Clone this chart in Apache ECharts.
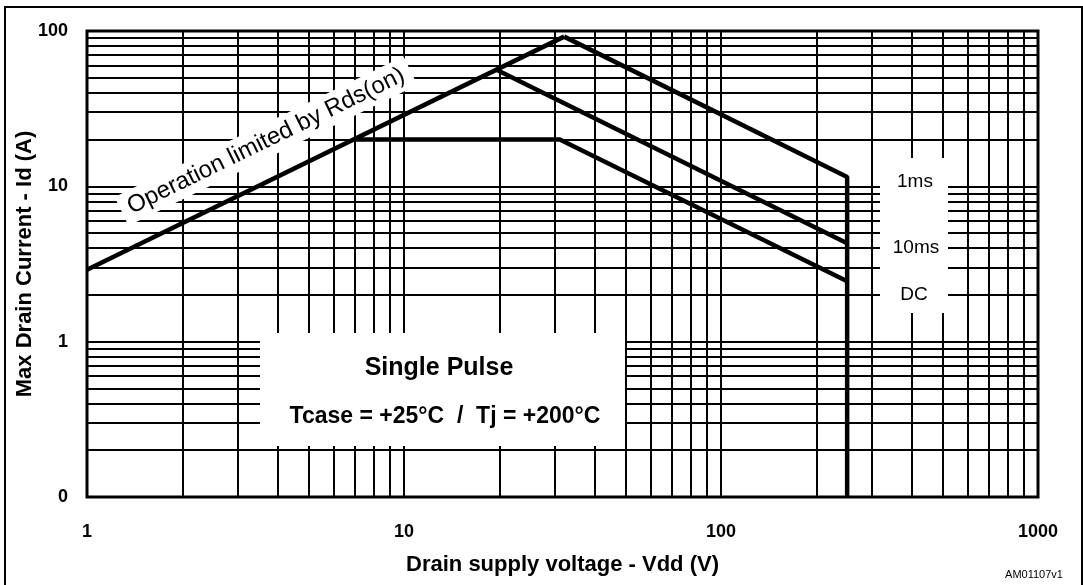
<!DOCTYPE html>
<html>
<head>
<meta charset="utf-8">
<script src="https://cdn.jsdelivr.net/npm/echarts@6/dist/echarts.min.js"></script>
<style>
  * { margin: 0; padding: 0; }
  body { background: #fff; }
</style>
</head>
<body>
<!-- safe operating area, log-log -->
<div id="main" style="width: 1083px;height: 585px;"></div>
<script>
  // curves, points are [Vdd (V), Id (A)]
  var rdsLimit = [[1, 2.9], [32, 92]];
  var pulse1ms = [[32, 92], [250, 11.5], [250, 0.1]];
  var pulse10ms = [[19.5, 56.5], [250, 4.3]];
  var dcLine = [[6.9, 20], [31, 20], [250, 2.45]];

  // minor grid lines of the log paper
  var xMinor = [2, 3, 4, 5, 6, 7, 8, 9, 20, 30, 40, 50, 60, 70, 80, 90, 200, 300, 400, 500, 600, 700, 800, 900];
  var yMinor = [0.2, 0.3, 0.4, 0.5, 0.6, 0.7, 0.8, 0.9, 2, 3, 4, 5, 6, 7, 8, 9, 20, 30, 40, 50, 60, 70, 80, 90];

  var curveLabels = ['1ms', '10ms', 'DC'];

  var FONT = '"Liberation Sans", Arial, sans-serif';

  var chart = echarts.init(document.getElementById('main'));

  var minorLines = [];
  xMinor.forEach(function (v) { minorLines.push({ xAxis: v }); });
  yMinor.forEach(function (v) { minorLines.push({ yAxis: v }); });

  function curve(name, data) {
    return {
      name: name,
      type: 'line',
      data: data,
      symbol: 'none',
      z: 10,
      silent: true,
      lineStyle: { color: '#000', width: 4.5 }
    };
  }

  chart.setOption({
    animation: false,
    textStyle: { fontFamily: FONT },
    grid: {
      left: 87, right: 45, top: 31, bottom: 88,
      show: true,
      borderColor: '#000',
      borderWidth: 3,
      outerBoundsMode: 'none'
    },
    xAxis: {
      type: 'log',
      logBase: 10,
      min: 1,
      max: 1000,
      axisLine: { show: false },
      axisTick: { show: false },
      splitLine: { show: true, lineStyle: { color: '#000', width: 2 } },
      axisLabel: {
        color: '#000', fontSize: 18, fontWeight: 'bold', margin: 26, fontFamily: FONT,
        formatter: function (v) { return String(Math.round(v)); }
      },
      name: 'Drain supply voltage - Vdd (V)',
      nameLocation: 'middle',
      nameGap: 57,
      nameMoveOverlap: false,
      nameTextStyle: { color: '#000', fontSize: 22, fontWeight: 'bold', fontFamily: FONT }
    },
    yAxis: {
      type: 'log',
      logBase: 10,
      min: 0.1,
      max: 100,
      axisLine: { show: false },
      axisTick: { show: false },
      splitLine: { show: true, lineStyle: { color: '#000', width: 2 } },
      axisLabel: {
        color: '#000', fontSize: 18, fontWeight: 'bold', margin: 19, fontFamily: FONT,
        formatter: function (v) { return v < 1 ? '0' : String(Math.round(v)); }
      },
      name: 'Max Drain Current - Id (A)',
      nameLocation: 'middle',
      nameGap: 51,
      nameMoveOverlap: false,
      nameTextStyle: { color: '#000', fontSize: 22, fontWeight: 'bold', fontFamily: FONT }
    },
    series: [
      {
        type: 'line',
        data: [],
        z: 1,
        silent: true,
        markLine: {
          z: 1,
          silent: true,
          symbol: 'none',
          label: { show: false },
          emphasis: { disabled: true },
          lineStyle: { color: '#000', width: 2, type: 'solid' },
          data: minorLines
        }
      },
      curve('Rds', rdsLimit),
      curve(curveLabels[0], pulse1ms),
      curve(curveLabels[1], pulse10ms),
      curve(curveLabels[2], dcLine)
    ],
    graphic: {
      elements: [
        // figure caption, cut off at the top edge
        {
          type: 'text', x: -20, y: 0, z: 5,
          style: { text: 'Figure 2.', font: 'bold 24px ' + FONT, fill: '#000', verticalAlign: 'bottom' }
        },
        {
          type: 'text', x: 331, y: 0, z: 5,
          style: { text: 'Safe operating area', font: 'bold 24px ' + FONT, fill: '#000', verticalAlign: 'bottom' }
        },
        {
          type: 'rect', z: 0,
          shape: { x: 5, y: 7, width: 1077, height: 600 },
          style: { fill: 'none', stroke: '#000', lineWidth: 2 }
        },
        {
          type: 'rect', z: 5,
          shape: { x: 260, y: 333, width: 365, height: 113 },
          style: { fill: '#fff' }
        },
        {
          type: 'text', x: 439, y: 368, z: 6,
          style: { text: 'Single Pulse', font: 'bold 25px ' + FONT, fill: '#000', align: 'center', verticalAlign: 'middle' }
        },
        {
          type: 'text', x: 445, y: 417, z: 6,
          style: { text: 'Tcase = +25°C  /  Tj = +200°C', font: 'bold 23px ' + FONT, fill: '#000', align: 'center', verticalAlign: 'middle' }
        },
        {
          type: 'rect', z: 5,
          shape: { x: 880, y: 158, width: 68, height: 155 },
          style: { fill: '#fff' }
        },
        {
          type: 'text', x: 915, y: 182, z: 6,
          style: { text: curveLabels[0], font: '19px ' + FONT, fill: '#000', align: 'center', verticalAlign: 'middle' }
        },
        {
          type: 'text', x: 916, y: 248, z: 6,
          style: { text: curveLabels[1], font: '19px ' + FONT, fill: '#000', align: 'center', verticalAlign: 'middle' }
        },
        {
          type: 'text', x: 914, y: 295, z: 6,
          style: { text: curveLabels[2], font: '19px ' + FONT, fill: '#000', align: 'center', verticalAlign: 'middle' }
        },
        {
          type: 'text', x: 266, y: 141, z: 6,
          rotation: 26 * Math.PI / 180,
          style: {
            text: 'Operation limited by Rds(on)', font: '24px ' + FONT, fill: '#000',
            align: 'center', verticalAlign: 'middle',
            backgroundColor: '#fff', padding: [4, 8]
          }
        },
        {
          type: 'text', x: 1034, y: 575, z: 6,
          style: { text: 'AM01107v1', font: '11px ' + FONT, fill: '#000', align: 'center', verticalAlign: 'middle' }
        }
      ]
    }
  });
</script>
</body>
</html>
